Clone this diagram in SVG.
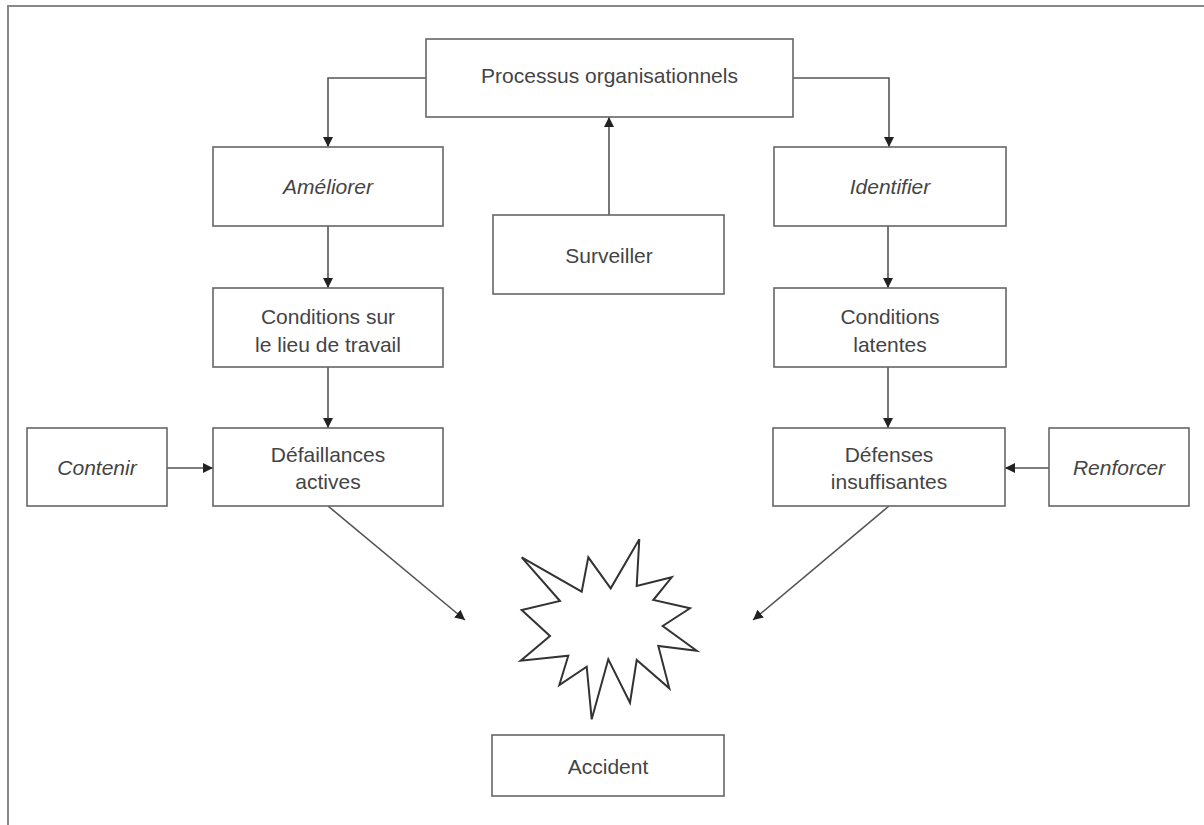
<svg xmlns="http://www.w3.org/2000/svg" width="1204" height="825" viewBox="0 0 1204 825">
<style>
.box{fill:#fff;stroke:#666;stroke-width:1.6}
.t{font-family:"Liberation Sans",Arial,sans-serif;font-size:21px;fill:#444;text-anchor:middle}
.i{font-style:italic}
.c{fill:none;stroke:#555;stroke-width:1.6}
</style>
<defs>
<marker id="ah" viewBox="0 0 10 10" refX="10" refY="5" markerWidth="10" markerHeight="10" markerUnits="userSpaceOnUse" orient="auto">
<path d="M0,0 L10,5 L0,10 Z" fill="#222"/>
</marker>
</defs>
<rect width="1204" height="825" fill="#fff"/>
<path d="M8,830 V6 H1210" fill="none" stroke="#888" stroke-width="2"/>
<g id="connectors">
<path class="c" d="M426,78 H328 V147" marker-end="url(#ah)"/>
<path class="c" d="M793,78 H889 V147" marker-end="url(#ah)"/>
<path class="c" d="M609,215 V117" marker-end="url(#ah)"/>
<path class="c" d="M328,226 V288" marker-end="url(#ah)"/>
<path class="c" d="M328,367 V428" marker-end="url(#ah)"/>
<path class="c" d="M888,226 V288" marker-end="url(#ah)"/>
<path class="c" d="M888,367 V428" marker-end="url(#ah)"/>
<path class="c" d="M167,468 H213" marker-end="url(#ah)"/>
<path class="c" d="M1049,468 H1005" marker-end="url(#ah)"/>
<path class="c" d="M328,506 L465,620" marker-end="url(#ah)"/>
<path class="c" d="M889,506 L753,620" marker-end="url(#ah)"/>
</g>
<g id="processus">
<rect class="box" x="426" y="39" width="367" height="78"/>
<text class="t" x="609.5" y="83">Processus organisationnels</text>
</g>
<g id="ameliorer">
<rect class="box" x="213" y="147" width="230" height="79"/>
<text class="t i" x="328" y="194">Améliorer</text>
</g>
<g id="identifier">
<rect class="box" x="774" y="147" width="232" height="79"/>
<text class="t i" x="890" y="194">Identifier</text>
</g>
<g id="surveiller">
<rect class="box" x="493" y="215" width="231" height="79"/>
<text class="t" x="609" y="263">Surveiller</text>
</g>
<g id="conditions-lieu">
<rect class="box" x="213" y="288" width="230" height="79"/>
<text class="t" x="328" y="324">Conditions sur</text>
<text class="t" x="328" y="352">le lieu de travail</text>
</g>
<g id="conditions-latentes">
<rect class="box" x="774" y="288" width="232" height="79"/>
<text class="t" x="890" y="324">Conditions</text>
<text class="t" x="890" y="352">latentes</text>
</g>
<g id="contenir">
<rect class="box" x="27" y="428" width="140" height="78"/>
<text class="t i" x="97" y="475">Contenir</text>
</g>
<g id="defaillances">
<rect class="box" x="213" y="428" width="230" height="78"/>
<text class="t" x="328" y="462">Défaillances</text>
<text class="t" x="328" y="489">actives</text>
</g>
<g id="defenses">
<rect class="box" x="773" y="428" width="232" height="78"/>
<text class="t" x="889" y="462">Défenses</text>
<text class="t" x="889" y="489">insuffisantes</text>
</g>
<g id="renforcer">
<rect class="box" x="1049" y="428" width="140" height="78"/>
<text class="t i" x="1119" y="475">Renforcer</text>
</g>
<g id="explosion">
<polygon fill="#fff" stroke="#333" stroke-width="2" stroke-linejoin="miter" points="521.7,557.3 581.7,591.7 588.3,557.3 610.7,588.3 639.3,539.3 636.7,586 671.7,577.3 653.3,600 690,608.3 662.7,626 696.7,650.7 658.3,646 669.3,688.3 636.7,660 630,702.7 608.3,659.3 591.7,719.3 586.7,666.7 559.3,685 568.3,655.7 520.7,660.7 550,636 521.7,610 560,601"/>
</g>
<g id="accident">
<rect class="box" x="492" y="735" width="232" height="61"/>
<text class="t" x="608" y="774">Accident</text>
</g>
</svg>
